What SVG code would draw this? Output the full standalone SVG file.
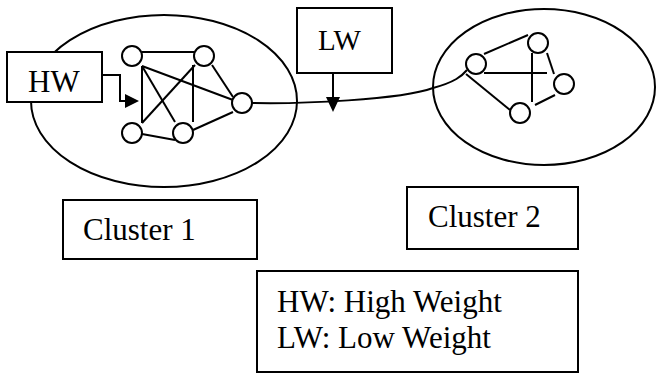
<svg xmlns="http://www.w3.org/2000/svg" width="657" height="374" viewBox="0 0 657 374">
<style>
.s{fill:none;stroke:#000;stroke-width:2}
.b{fill:#fff;stroke:#000;stroke-width:2}
.n{fill:#fff;stroke:#000;stroke-width:2}
.t{font-family:"Liberation Serif","Times New Roman",serif;font-size:31px;fill:#000}
</style>
<rect width="657" height="374" fill="#fff"/>
<g id="cluster1">
<ellipse class="s" cx="164" cy="101" rx="133" ry="86"/>
</g>
<g id="cluster2">
<ellipse class="s" cx="544" cy="87" rx="111" ry="78"/>
</g>
<g id="connectors">
<path class="s" d="M142,52 H194"/>
<path class="s" d="M142,66 V123"/>
<path class="s" d="M142,66 L233,100"/>
<path class="s" d="M142,66 L175,122"/>
<path class="s" d="M142,123 L195,65"/>
<path class="s" d="M193,65 V122"/>
<path class="s" d="M212,65 L233,97"/>
<path class="s" d="M142,134 L175,140"/>
<path class="s" d="M193,130 L233,112"/>
<path class="s" d="M484,54 L528,35"/>
<path class="s" d="M484,73 H547"/>
<path class="s" d="M532,53 V102"/>
<path class="s" d="M547,53 L554,74"/>
<path class="s" d="M555,95 L535,105"/>
<path class="s" d="M466,74 L510,110"/>
<path class="s" d="M252,103 C300,104 400,100 433,88 C455,82 462,76 467,70"/>
<path class="s" d="M102,75 H120 V101 H127"/>
<polygon points="125,94 139,101 125,108" fill="#000"/>
<path class="s" d="M333,73 V98"/>
<polygon points="326,97 340,97 333,112" fill="#000"/>
</g>
<g id="n1a"><circle class="n" cx="132" cy="56" r="10"/></g>
<g id="n1b"><circle class="n" cx="204" cy="56" r="10"/></g>
<g id="n1c"><circle class="n" cx="242" cy="103" r="10"/></g>
<g id="n1d"><circle class="n" cx="132" cy="133" r="10"/></g>
<g id="n1e"><circle class="n" cx="183" cy="133" r="10"/></g>
<g id="n2a"><circle class="n" cx="476" cy="64" r="10"/></g>
<g id="n2b"><circle class="n" cx="538" cy="43" r="10"/></g>
<g id="n2c"><circle class="n" cx="564" cy="84" r="10"/></g>
<g id="n2d"><circle class="n" cx="520" cy="113" r="10"/></g>
<g id="hw">
<rect class="b" x="7" y="52" width="95" height="50"/>
<text class="t" x="28" y="92">HW</text>
</g>
<g id="lw">
<rect class="b" x="297" y="8" width="95" height="65"/>
<text class="t" x="318" y="50" style="font-size:29px">LW</text>
</g>
<g id="label1">
<rect class="b" x="63" y="200" width="194" height="59"/>
<text class="t" x="83" y="240">Cluster 1</text>
</g>
<g id="label2">
<rect class="b" x="407" y="187" width="171" height="62"/>
<text class="t" x="428" y="227">Cluster 2</text>
</g>
<g id="legend">
<rect class="b" x="257" y="271" width="321" height="101"/>
<text class="t" x="277" y="312">HW: High Weight</text>
<text class="t" x="277" y="348">LW: Low Weight</text>
</g>
</svg>
